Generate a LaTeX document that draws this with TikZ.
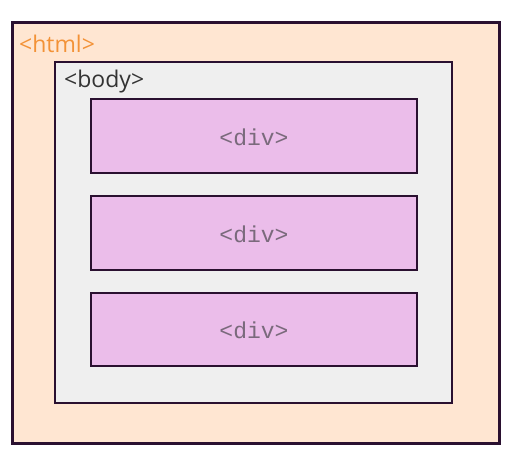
\documentclass[tikz,border=0pt]{standalone}
\usepackage{fontspec}
\setmainfont{Open Sans}
\newfontfamily\monof{Liberation Mono}
\definecolor{htmlfill}{HTML}{FFE6D2}
\definecolor{bodyfill}{HTML}{EFEFEF}
\definecolor{divfill}{HTML}{EBBDEA}
\definecolor{edge}{HTML}{2A1030}
\definecolor{htmltext}{HTML}{F39237}
\definecolor{bodytext}{HTML}{333333}
\definecolor{divtext}{HTML}{7A6A7C}
\begin{document}
\begin{tikzpicture}[x=1pt,y=-1pt,
  htmlbox/.style={draw=edge,line width=3pt,fill=htmlfill},
  bodybox/.style={draw=edge,line width=2.8pt,fill=bodyfill},
  divbox/.style={draw=edge,line width=1.2pt,fill=divfill},
  divlabel/.style={font=\monof\fontsize{23}{26}\selectfont,text=divtext,inner sep=0pt},
  taglabel/.style={anchor=west,inner sep=0pt,font=\fontsize{23}{27}\selectfont}]
\useasboundingbox (0,0) rectangle (510,453);
\fill[white] (0,0) rectangle (510,453);
\draw[htmlbox] (12,22) rectangle (499,443);
\node[taglabel,text=htmltext] (htmllbl) at (19,44) {<html>};
\draw[bodybox] (55,62) rectangle (452,403);
\node[taglabel,text=bodytext] (bodylbl) at (64,82) {<body>};
\draw[divbox] (91,99) rectangle (417,173);
\draw[divbox] (91,196) rectangle (417,270);
\draw[divbox] (91,293) rectangle (417,366);
\node[divlabel] (d1) at (254,137) {<div>};
\node[divlabel] (d2) at (254,234) {<div>};
\node[divlabel] (d3) at (254,330) {<div>};
\end{tikzpicture}
\end{document}
